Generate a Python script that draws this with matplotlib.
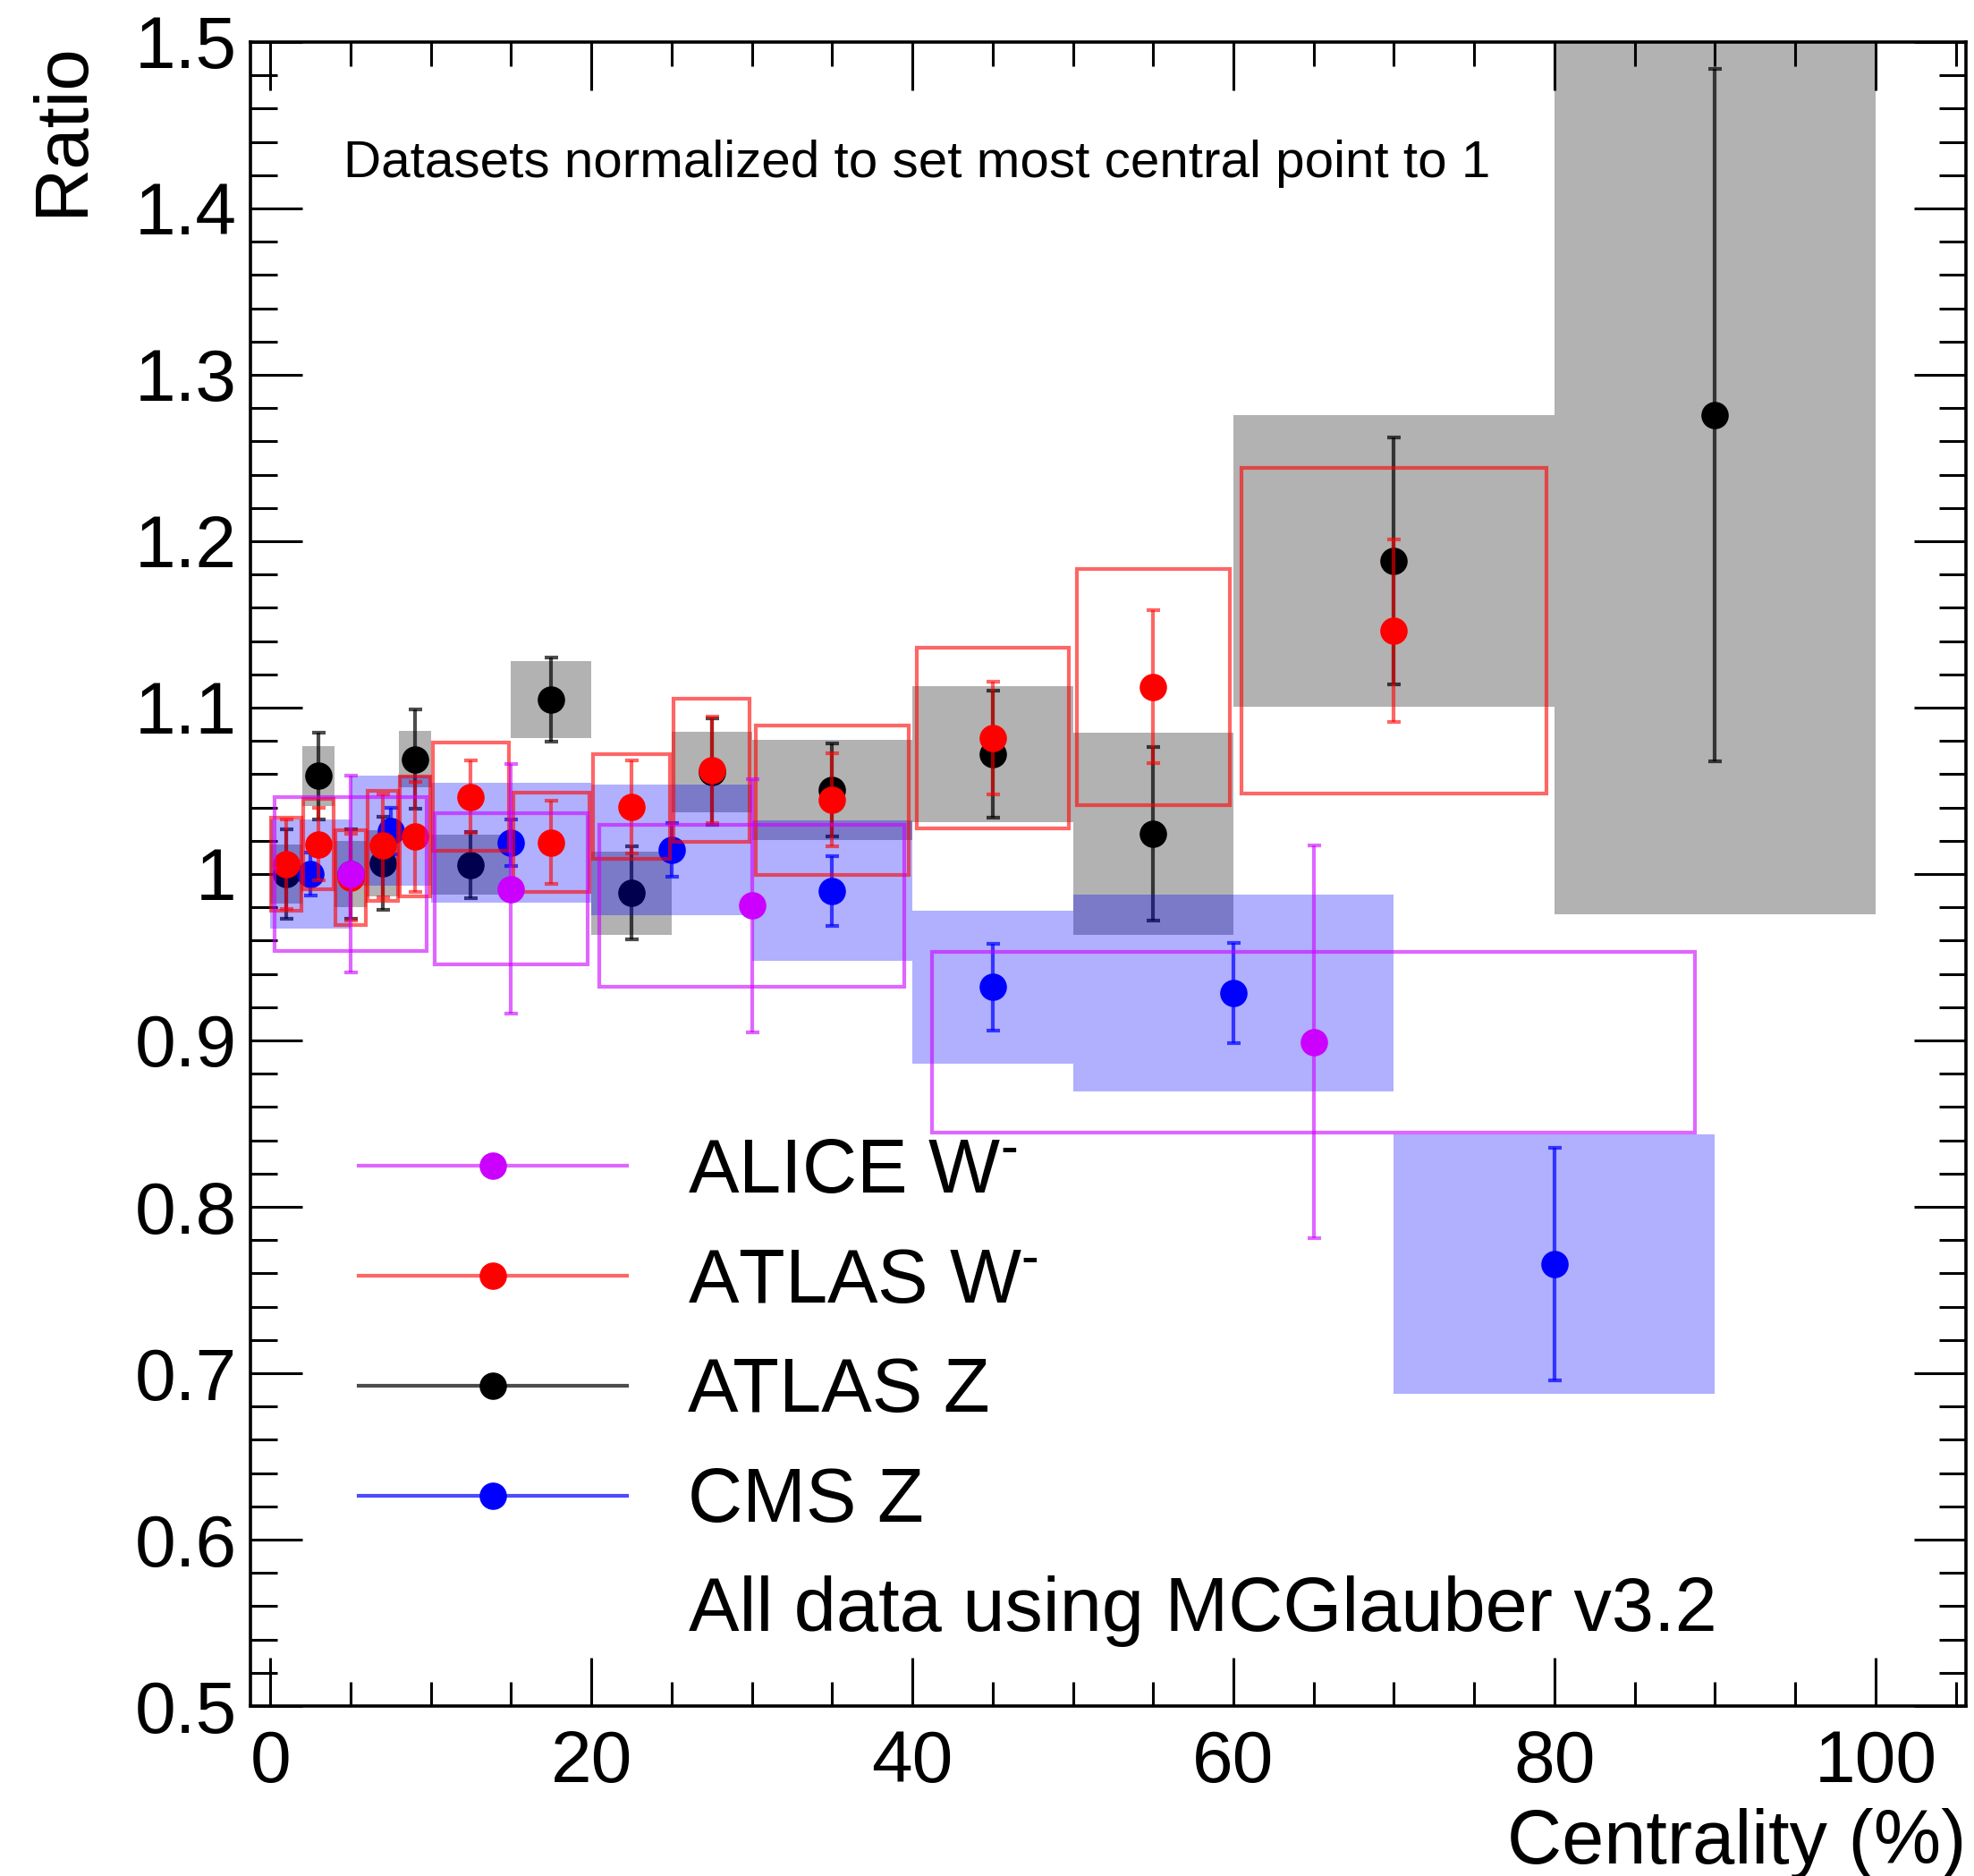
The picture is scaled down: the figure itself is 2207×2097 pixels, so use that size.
import numpy as np
import matplotlib
matplotlib.use("Agg")
import matplotlib.pyplot as plt
from matplotlib.lines import Line2D
from matplotlib.ticker import MultipleLocator, FuncFormatter

plt.rcParams["font.family"] = ["Liberation Sans", "DejaVu Sans"]
plt.rcParams["mathtext.fontset"] = "custom"
plt.rcParams["mathtext.rm"] = "Liberation Sans"
plt.rcParams["mathtext.it"] = "Liberation Sans"

# ---------------- data: centrality bins, ratio, stat. error, syst. half-height
atlas_z_lo = [0, 2, 4, 6, 8, 10, 15, 20, 25, 30, 40, 50, 60, 80]
atlas_z_hi = [2, 4, 6, 8, 10, 15, 20, 25, 30, 40, 50, 60, 80, 100]
atlas_z_val = [1.000, 1.059, 1.000, 1.0065, 1.069, 1.0055, 1.1048, 0.9887,
               1.0613, 1.0505, 1.072, 1.0242, 1.1882, 1.2758]
atlas_z_stat = [0.027, 0.026, 0.027, 0.028, 0.030, 0.020, 0.0255, 0.028,
                0.032, 0.028, 0.038, 0.052, 0.074, 0.208]
atlas_z_sys = [0.018, 0.018, 0.020, 0.020, 0.017, 0.018, 0.023, 0.025,
               0.024, 0.030, 0.041, 0.061, 0.0877, 0.300]

atlas_w_lo = [0, 2, 4, 6, 8, 10, 15, 20, 25, 30, 40, 50, 60]
atlas_w_hi = [2, 4, 6, 8, 10, 15, 20, 25, 30, 40, 50, 60, 80]
atlas_w_val = [1.006, 1.018, 0.998, 1.017, 1.0225, 1.0465, 1.019, 1.0405,
               1.0625, 1.0445, 1.0817, 1.1124, 1.1462]
atlas_w_stat = [0.027, 0.022, 0.026, 0.031, 0.033, 0.022, 0.025, 0.028,
                0.032, 0.028, 0.034, 0.046, 0.055]
atlas_w_sys = [0.028, 0.027, 0.0285, 0.033, 0.036, 0.0325, 0.030, 0.0315,
               0.043, 0.045, 0.0545, 0.071, 0.098]

cms_z_lo = [0, 5, 10, 20, 30, 40, 50, 70]
cms_z_hi = [5, 10, 20, 30, 40, 50, 70, 90]
cms_z_val = [1.000, 1.026, 1.019, 1.0145, 0.990, 0.932, 0.9285, 0.7656]
cms_z_stat = [0.013, 0.014, 0.014, 0.016, 0.021, 0.026, 0.030, 0.070]
cms_z_sys = [0.033, 0.033, 0.036, 0.039, 0.042, 0.046, 0.059, 0.078]

alice_w_lo = [0, 10, 20, 40]
alice_w_hi = [10, 20, 40, 90]
alice_w_val = [1.000, 0.991, 0.981, 0.899]
alice_w_stat = [0.059, 0.075, 0.076, 0.118]
alice_w_sys = [0.046, 0.0455, 0.0487, 0.0543]

legend_labels = [r"ALICE W$^{\text{-}}$", r"ATLAS W$^{\text{-}}$",
                 "ATLAS Z", "CMS Z"]
x_ticks = [0, 20, 40, 60, 80, 100]
y_ticks = [0.5, 0.6, 0.7, 0.8, 0.9, 1.0, 1.1, 1.2, 1.3, 1.4, 1.5]

# ---------------- style
MAGENTA = (0.8, 0.0, 1.0)
RED = (1.0, 0.0, 0.0)
BLUE = (0.0, 0.0, 1.0)
BLACK = (0.0, 0.0, 0.0)
MS = 21
ERR_LW = 3.0
BOX_LW = 3.0
CAP = 5.4


def rgba(c, a):
    return (c[0], c[1], c[2], a)


fig = plt.figure(figsize=(22.07, 20.97), dpi=100)
ax = fig.add_axes([0.1269, 0.0906, 0.8690, 0.8870])


def draw_series(lo, hi, val, stat, sys, color, err_alpha, box_color,
                filled, box_frac, z):
    lo = np.asarray(lo, float)
    hi = np.asarray(hi, float)
    val = np.asarray(val, float)
    stat = np.asarray(stat, float)
    sys = np.asarray(sys, float)
    xc = 0.5 * (lo + hi)
    width = (hi - lo) * box_frac
    if filled:
        ax.bar(xc, 2 * sys, bottom=val - sys, width=width, color=box_color,
               linewidth=0, zorder=z)
    else:
        ax.bar(xc, 2 * sys, bottom=val - sys, width=width, fill=False,
               edgecolor=box_color, linewidth=BOX_LW, zorder=z)
    ax.errorbar(xc, val, yerr=stat, fmt="none", ecolor=rgba(color, err_alpha),
                elinewidth=ERR_LW, capsize=CAP, capthick=ERR_LW, zorder=z + 1)
    ax.plot(xc, val, linestyle="none", marker="o", ms=MS, color=color,
            mec=color, zorder=z + 2)


draw_series(atlas_z_lo, atlas_z_hi, atlas_z_val, atlas_z_stat, atlas_z_sys,
            BLACK, 0.7, rgba(BLACK, 0.30), True, 1.0, 1)
draw_series(cms_z_lo, cms_z_hi, cms_z_val, cms_z_stat, cms_z_sys,
            BLUE, 0.7, rgba(BLUE, 0.31), True, 1.0, 4)
draw_series(atlas_w_lo, atlas_w_hi, atlas_w_val, atlas_w_stat, atlas_w_sys,
            RED, 0.6, rgba(RED, 0.6), False, 0.95, 7)
draw_series(alice_w_lo, alice_w_hi, alice_w_val, alice_w_stat, alice_w_sys,
            MAGENTA, 0.6, rgba(MAGENTA, 0.6), False, 0.95, 10)

# ---------------- axes
ax.set_xlim(-1.23, 105.63)
ax.set_ylim(0.5, 1.5)
ax.set_xticks(x_ticks)
ax.set_yticks(y_ticks)
ax.xaxis.set_minor_locator(MultipleLocator(5))
ax.yaxis.set_minor_locator(MultipleLocator(0.02))
ax.yaxis.set_major_formatter(FuncFormatter(lambda v, p: f"{v:g}"))
ax.tick_params(axis="both", which="both", direction="in", top=True,
               right=True, width=2.2, colors="black", labelsize=59)
ax.tick_params(axis="x", which="major", length=39, pad=19)
ax.tick_params(axis="x", which="minor", length=19.5)
ax.tick_params(axis="y", which="major", length=42, pad=11)
ax.tick_params(axis="y", which="minor", length=21.5)
for sp in ax.spines.values():
    sp.set_linewidth(2.6)

ax.set_xlabel("Centrality (%)", fontsize=61, loc="right")
ax.xaxis.set_label_coords(1.0, -0.0615)
ax.set_ylabel("Ratio", fontsize=60, loc="top")
ax.yaxis.set_label_coords(-0.089, 1.0)

ax.text(0.0542, 0.9188, "Datasets normalized to set most central point to 1",
        transform=ax.transAxes, fontsize=42, ha="left", va="baseline")
ax.text(0.2555, 0.0452, "All data using MCGlauber v3.2",
        transform=ax.transAxes, fontsize=61, ha="left", va="baseline")

handles = [
    Line2D([], [], color=rgba(MAGENTA, 0.6), lw=3, marker="o", ms=MS,
           mfc=MAGENTA, mec=MAGENTA),
    Line2D([], [], color=rgba(RED, 0.6), lw=3, marker="o", ms=MS,
           mfc=RED, mec=RED),
    Line2D([], [], color=rgba(BLACK, 0.7), lw=3, marker="o", ms=MS,
           mfc=BLACK, mec=BLACK),
    Line2D([], [], color=rgba(BLUE, 0.7), lw=3, marker="o", ms=MS,
           mfc=BLUE, mec=BLUE),
]
leg = ax.legend(handles, legend_labels, loc="upper left",
                bbox_to_anchor=(0.063, 0.342), frameon=False, fontsize=61,
                handlelength=3.54, handletextpad=0.8, labelspacing=0.505,
                borderpad=0, borderaxespad=0, numpoints=1)
leg.set_zorder(20)

fig.savefig("out.png", dpi=100)
